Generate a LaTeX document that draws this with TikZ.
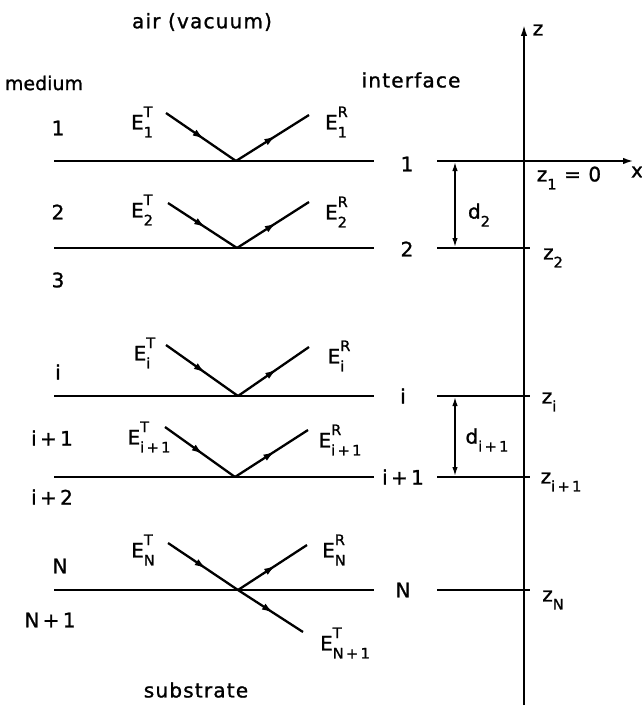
\documentclass[tikz,border=0pt]{standalone}
\usepackage{fontspec}
\setmainfont{DejaVu Sans}[FakeBold=1.2,LetterSpace=6]
\usetikzlibrary{decorations.markings,arrows.meta}
\newcommand{\scr}[1]{{\fontsize{14.5}{14.5}\selectfont #1}}
\newcommand{\Ef}[2]{E\makebox[0pt][l]{\raisebox{0.62em}{\scr{#1}}}\raisebox{-0.4em}{\scr{#2}}}
\newcommand{\Sb}[2]{#1\raisebox{-0.4em}{\scr{#2}}}
\begin{document}
\begin{tikzpicture}[x=1pt,y=-1pt,
  lbl/.style={font=\fontsize{20}{23}\selectfont, inner sep=0pt},
  iface/.style={line width=2.6pt},
  ray/.style={line width=2.3pt, postaction={decorate},
    decoration={markings, mark=at position 0.55 with {\arrow{Latex[length=12pt,width=7pt]}}}},
  axisline/.style={line width=1.8pt, -{Latex[length=11pt,width=6.5pt]}},
  dimline/.style={line width=1.5pt, {Latex[length=9pt,width=5.5pt]}-{Latex[length=9pt,width=5.5pt]}}]
\useasboundingbox (0,0) rectangle (642,709);

% headings
\node[lbl] (air) at (202,22) {air (vacuum)};
\node[lbl, font=\fontsize{19}{23}\selectfont\addfontfeature{LetterSpace=0}] (medium) at (44,83) {medium};
\node[lbl] (interface) at (411,80) {interface};
\node[lbl] (substrate) at (196,690) {substrate};

% medium numbers
\node[lbl] (m1) at (58,128) {1};
\node[lbl] (m2) at (58,212) {2};
\node[lbl] (m3) at (58,280) {3};
\node[lbl] (mi) at (58,372) {i};
\node[lbl] (mi1) at (52,438) {i\,+\,1};
\node[lbl] (mi2) at (52,497) {i\,+\,2};
\node[lbl] (mN) at (60,566) {N};
\node[lbl] (mN1) at (50,620) {N\,+\,1};

% interface numbers
\node[lbl] (n1) at (407,164) {1};
\node[lbl] (n2) at (407,249) {2};
\node[lbl] (ni) at (403,396) {i};
\node[lbl] (ni1) at (403,477) {i\,+\,1};
\node[lbl] (nN) at (403,590) {N};

% axes
\coordinate (zbot) at (524,705);
\coordinate (ztop) at (524,25);
\coordinate (xend) at (634,161);
\draw[axisline] (zbot) -- (ztop);
\node[lbl] (zlab) at (538,30) {z};
\node[lbl] (xlab) at (637,172) {x};

% interface lines
\foreach \n/\y in {1/161,2/248,i/396,i1/477,N/590}{
  \coordinate (L\n) at (54,\y);
  \coordinate (M\n) at (374,\y);
  \coordinate (Q\n) at (437,\y);
  \coordinate (P\n) at (530,\y);
}
\foreach \n in {1,2,i,i1,N}{\draw[iface] (L\n) -- (M\n);}
\draw[axisline,line width=2.3pt] (Q1) -- (xend);
\foreach \n in {2,i,i1,N}{\draw[iface] (Q\n) -- (P\n);}

% z labels
\node[lbl] (z1) at (569,178) {\Sb{z}{1} = 0};
\node[lbl] (z2) at (553,258) {\Sb{z}{2}};
\node[lbl] (zi) at (549,402) {\Sb{z}{i}};
\node[lbl] (zi1) at (561,482) {\Sb{z}{i\,+\,1}};
\node[lbl] (zN) at (553,600) {\Sb{z}{N}};

% thickness arrows
\coordinate (d2a) at (455,162);
\coordinate (d2b) at (455,247);
\coordinate (dia) at (455,397);
\coordinate (dib) at (455,476);
\draw[dimline] (d2a) -- (d2b);
\draw[dimline] (dia) -- (dib);
\node[lbl] (d2) at (479,215) {\Sb{d}{2}};
\node[lbl] (di1) at (487,440) {\Sb{d}{i\,+\,1}};

% rays
\coordinate (S1) at (166,113); \coordinate (V1) at (236,161); \coordinate (R1) at (309,115);
\coordinate (S2) at (168,203); \coordinate (V2) at (237,248); \coordinate (R2) at (309,202);
\coordinate (Si) at (166,345); \coordinate (Vi) at (238,396); \coordinate (Ri) at (309,347);
\coordinate (Si1) at (165,427); \coordinate (Vi1) at (235,477); \coordinate (Ri1) at (308,430);
\coordinate (SN) at (168,543); \coordinate (VN) at (238,590); \coordinate (RN) at (307,545);
\coordinate (TN) at (303,632);
\foreach \n in {1,2,i,i1,N}{
  \draw[ray] (S\n) -- (V\n);
  \draw[ray] (V\n) -- (R\n);
}
\draw[ray] (VN) -- (TN);

% field labels
\node[lbl] (E1T) at (142,122) {\Ef{T}{1}};
\node[lbl] (E1R) at (336,122) {\Ef{R}{1}};
\node[lbl] (E2T) at (142,210) {\Ef{T}{2}};
\node[lbl] (E2R) at (336,212) {\Ef{R}{2}};
\node[lbl] (EiT) at (142,353) {\Ef{T}{i}};
\node[lbl] (EiR) at (336,356) {\Ef{R}{i}};
\node[lbl] (Ei1T) at (149,437) {\Ef{T}{i\,+\,1}};
\node[lbl] (Ei1R) at (340,440) {\Ef{R}{i\,+\,1}};
\node[lbl] (ENT) at (143,550) {\Ef{T}{N}};
\node[lbl] (ENR) at (334,550) {\Ef{R}{N}};
\node[lbl] (EN1T) at (345,643) {\Ef{T}{N\,+\,1}};
\end{tikzpicture}
\end{document}
